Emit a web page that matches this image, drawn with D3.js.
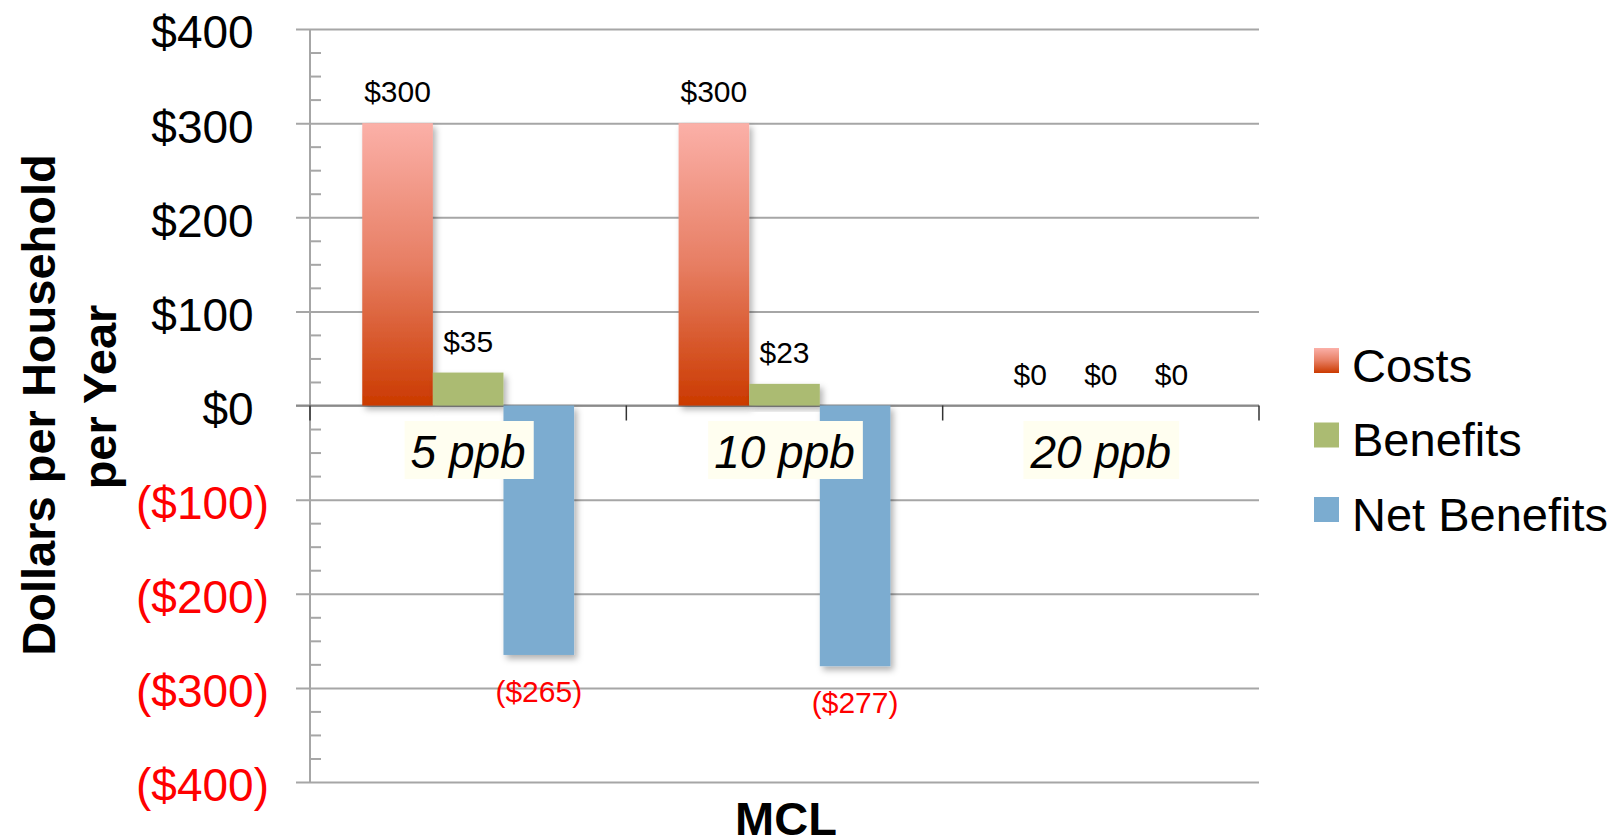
<!DOCTYPE html>
<html><head><meta charset="utf-8">
<script src="https://cdn.jsdelivr.net/npm/d3@7"></script>
<style>
body{margin:0;background:#fff;}
text{font-family:"Liberation Sans",Arial,Helvetica,sans-serif;}
</style>
</head><body>
<svg id="chart" width="1621" height="838"></svg>
<script>
// ---- data ----
const categories = ["5 ppb", "10 ppb", "20 ppb"];
const seriesNames = ["Costs", "Benefits", "Net Benefits"];
const costs = [300, 300, 0];
const benefits = [35, 23, 0];
const netBenefits = [-265, -277, 0];
const yTicks = [-400, -300, -200, -100, 0, 100, 200, 300, 400];
const yTickLabels = ["($400)", "($300)", "($200)", "($100)", "$0", "$100", "$200", "$300", "$400"];
const yTitleLines = ["Dollars per Household", "per Year"];
const xTitle = "MCL";

const seriesValues = [costs, benefits, netBenefits];
const seriesFill = ["url(#costGrad)", "#abbb72", "#7bacd0"];

const svg = d3.select("#chart");
const defs = svg.append("defs");
const g1 = defs.append("linearGradient").attr("id", "costGrad")
  .attr("x1", 0).attr("y1", 0).attr("x2", 0).attr("y2", 1);
g1.append("stop").attr("offset", "0%").attr("stop-color", "#fbb0a8");
g1.append("stop").attr("offset", "50%").attr("stop-color", "#e77e63");
g1.append("stop").attr("offset", "100%").attr("stop-color", "#cb3a00");
const f = defs.append("filter").attr("id", "shadow")
  .attr("x", "-20%").attr("y", "-20%").attr("width", "150%").attr("height", "150%");
f.append("feDropShadow").attr("dx", 3).attr("dy", 4).attr("stdDeviation", 3)
  .attr("flood-color", "#000").attr("flood-opacity", 0.3);

const plotLeft = 310, plotRight = 1259, plotTop = 29, plotBottom = 782;

const y = d3.scaleLinear().domain([-400, 400]).range([plotBottom, plotTop]);
const x0 = d3.scaleBand().domain(categories).range([plotLeft, plotRight]).paddingInner(0).paddingOuter(0);
const x1 = d3.scaleBand().domain(seriesNames).range([0, x0.bandwidth()])
  .paddingInner(0).paddingOuter(0.74);

// gridlines
const grid = svg.append("g").attr("transform", `translate(296,0)`)
  .call(d3.axisLeft(y).tickValues(yTicks).tickSize(-(plotRight - 296)).tickFormat(""));
grid.select(".domain").remove();
grid.selectAll("line").attr("stroke", "#a6a6a6").attr("stroke-width", 2);

// minor ticks
const minor = d3.range(-400, 401, 25).filter(v => v % 100 !== 0);
const mg = svg.append("g").attr("transform", `translate(${plotLeft},0)`)
  .call(d3.axisRight(y).tickValues(minor).tickSize(11).tickFormat(""));
mg.select(".domain").remove();
mg.selectAll("line").attr("stroke", "#a6a6a6").attr("stroke-width", 2);

// y axis line
svg.append("line").attr("x1", plotLeft).attr("x2", plotLeft).attr("y1", y(400)).attr("y2", y(-400))
  .attr("stroke", "#a6a6a6").attr("stroke-width", 2);

// y tick labels
const yl = svg.append("g").attr("transform", `translate(269,0)`)
  .call(d3.axisLeft(y).tickValues(yTicks).tickSize(0).tickPadding(0)
    .tickFormat((d, i) => yTickLabels[i]));
yl.select(".domain").remove();
yl.selectAll("text")
  .attr("font-size", 46).attr("dy", "0.41em")
  .attr("font-family", '"Liberation Sans",Arial,sans-serif')
  .attr("fill", d => d < 0 ? "#ff0000" : "#000")
  .each(function(d) {
    if (d >= 0) d3.select(this).append("tspan").attr("fill-opacity", 0).text(")");
  });

// zero line
svg.append("line").attr("x1", 296).attr("x2", plotRight).attr("y1", y(0)).attr("y2", y(0))
  .attr("stroke", "#8a8a8a").attr("stroke-width", 2);

// bars
const groups = svg.append("g").selectAll("g").data(categories).join("g")
  .attr("transform", d => `translate(${x0(d)},0)`);
groups.selectAll("rect")
  .data((c, ci) => seriesNames.map((s, si) => ({ s, si, v: seriesValues[si][ci] })))
  .join("rect")
  .attr("x", d => x1(d.s))
  .attr("width", x1.bandwidth())
  .attr("y", d => y(Math.max(0, d.v)))
  .attr("height", d => Math.abs(y(d.v) - y(0)))
  .attr("fill", d => seriesFill[d.si])
  .attr("filter", "url(#shadow)");

// x tick marks at category boundaries
const bounds = categories.map(c => x0(c)).concat([x0.range()[1]]);
svg.append("g").selectAll("line").data(bounds).join("line")
  .attr("x1", d => d).attr("x2", d => d).attr("y1", y(0)).attr("y2", y(0) + 15)
  .attr("stroke", "#333").attr("stroke-width", 1.5);

// category labels with boxes
const cl = svg.append("g");
categories.forEach(c => {
  const cx = x0(c) + x0.bandwidth() / 2;
  const box = cl.append("rect");
  const t = cl.append("text").attr("x", cx).attr("y", 468)
    .attr("text-anchor", "middle").attr("font-size", 46).attr("font-style", "italic")
    .text(c);
  const bb = t.node().getBBox();
  box.attr("x", bb.x - 6).attr("width", bb.width + 14).attr("y", 421).attr("height", 58)
    .attr("fill", "#fffef0");
});

// value labels
const fmt = v => v < 0 ? `($${Math.abs(v)})` : `$${v}`;
groups.selectAll("text.val")
  .data((c, ci) => seriesNames.map((s, si) => ({ s, si, v: seriesValues[si][ci] })))
  .join("text").attr("class", "val")
  .attr("x", d => x1(d.s) + x1.bandwidth() / 2)
  .attr("y", d => d.v < 0 ? y(d.v) + 47 : y(d.v) - 21)
  .attr("text-anchor", "middle").attr("font-size", 30)
  .attr("fill", d => d.v < 0 ? "#ff0000" : "#000")
  .text(d => fmt(d.v));

// axis titles
const yt = svg.append("g");
[[55, 405], [116, 397]].forEach((p, i) => {
  yt.append("text").attr("transform", `translate(${p[0]},${p[1]}) rotate(-90)`)
    .attr("text-anchor", "middle").attr("font-size", 47).attr("font-weight", "bold")
    .text(yTitleLines[i]);
});
svg.append("text").attr("x", 786).attr("y", 835).attr("text-anchor", "middle")
  .attr("font-size", 47).attr("font-weight", "bold").text(xTitle);

// legend
const lg = svg.append("g").selectAll("g").data(seriesNames).join("g")
  .attr("transform", (d, i) => `translate(1314,${348 + i * 74.5})`);
lg.append("rect").attr("width", 25).attr("height", 25).attr("fill", (d, i) => seriesFill[i]);
lg.append("text").attr("x", 38).attr("y", 33.5).attr("font-size", 47).text(d => d);
</script>
</body></html>
